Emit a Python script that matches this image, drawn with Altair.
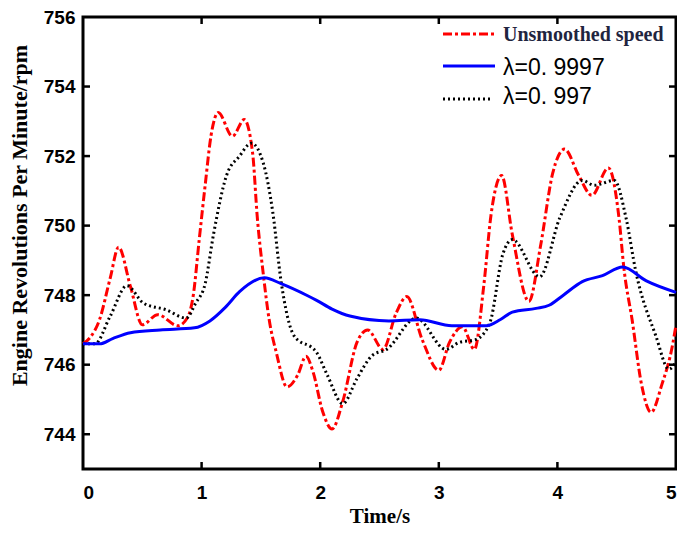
import altair as alt
import pandas as pd

# ---- data ----
red_t = [0, 0.06, 0.14, 0.23, 0.30, 0.40, 0.50, 0.63, 0.80, 0.88, 0.93, 0.98, 1.03, 1.08, 1.14, 1.26, 1.36,
         1.43, 1.47, 1.52, 1.57, 1.63, 1.72, 1.81, 1.88, 1.94, 2.02, 2.10, 2.19, 2.31, 2.40, 2.53, 2.64, 2.73,
         2.86, 3.0, 3.09, 3.2, 3.30, 3.38, 3.44, 3.53, 3.62, 3.76, 3.86, 3.96, 4.06, 4.18, 4.29, 4.43, 4.52,
         4.56, 4.63, 4.71, 4.79, 4.88, 4.97, 5.0]
red_v = [746.6, 746.78, 747.3, 748.5, 749.38, 748.25, 747.15, 747.44, 747.12, 747.35, 748.0, 749.6, 751.16,
         752.6, 753.25, 752.57, 753.05, 752.09, 750.22, 748.61, 747.29, 746.35, 745.36, 745.7, 746.24, 745.79,
         744.66, 744.15, 744.94, 746.64, 747.0, 746.44, 747.48, 747.96, 746.72, 745.84, 746.64, 747.09, 746.44,
         748.3, 750.3, 751.44, 749.74, 747.82, 749.46, 751.5, 752.2, 751.44, 750.87, 751.66, 750.2, 748.8,
         747.29, 745.42, 744.63, 745.42, 746.55, 747.14]

blue_t = [0, 0.14, 0.25, 0.40, 0.65, 0.94, 1.07, 1.20, 1.32, 1.53, 1.67, 1.89, 1.97, 2.10, 2.25, 2.58, 2.84,
          3.11, 3.40, 3.52, 3.62, 3.82, 3.93, 4.05, 4.21, 4.38, 4.55, 4.75, 5.0]
blue_v = [746.6, 746.6, 746.75, 746.92, 747.0, 747.06, 747.26, 747.65, 748.1, 748.5, 748.33, 747.99, 747.85,
          747.6, 747.4, 747.26, 747.29, 747.12, 747.12, 747.3, 747.51, 747.62, 747.71, 748.0, 748.39, 748.56,
          748.81, 748.41, 748.08]

black_t = [0, 0.1, 0.23, 0.37, 0.51, 0.70, 0.87, 0.95, 1.03, 1.10, 1.21, 1.32, 1.42, 1.52, 1.60, 1.67, 1.78,
           1.97, 2.06, 2.19, 2.31, 2.44, 2.56, 2.81, 3.06, 3.17, 3.31, 3.43, 3.54, 3.62, 3.85, 4.02, 4.21, 4.31,
           4.48, 4.58, 4.66, 4.83, 4.94, 5.0]
black_v = [746.6, 746.6, 747.4, 748.27, 747.77, 747.58, 747.34, 747.77, 748.33, 749.74, 751.44, 752.0, 752.37,
           751.8, 750.39, 748.4, 746.83, 746.35, 745.7, 744.88, 745.6, 746.27, 746.44, 747.34, 746.44, 746.64,
           746.72, 747.2, 749.18, 749.6, 748.53, 750.22, 751.3, 751.16, 751.3, 750.2, 748.7, 746.83, 745.87,
           746.07]

legend_labels = ["Unsmoothed speed", "λ=0. 9997", "λ=0. 997"]
x_ticks = [0, 1, 2, 3, 4, 5]
y_ticks = [744, 746, 748, 750, 752, 754, 756]
x_inner = [1, 2, 3, 4]
y_inner = [744, 746, 748, 750, 752, 754]

W, H = 593, 452
TOP = 9

red_df = pd.DataFrame({"t": red_t, "v": red_v})
blue_df = pd.DataFrame({"t": blue_t, "v": blue_v})
black_df = pd.DataFrame({"t": black_t, "v": black_v})

xs = alt.Scale(domain=[0, 5], nice=False, zero=False)
ys = alt.Scale(domain=[743, 756], nice=False, zero=False)

x_axis = alt.Axis(values=x_ticks, tickSize=0, domain=False, grid=False, format="d",
                  labelFont="Liberation Sans", labelFontWeight="bold", labelFontSize=19,
                  labelColor="black", labelPadding=14,
                  title="Time/s", titleFont="Liberation Serif", titleFontWeight="bold",
                  titleFontSize=21, titleColor="black", titleX=W / 2, titleY=53,
                  titleBaseline="alphabetic", titleAlign="center")
y_axis = alt.Axis(values=y_ticks, tickSize=0, domain=False, grid=False, format="d",
                  labelFont="Liberation Sans", labelFontWeight="bold", labelFontSize=19,
                  labelColor="black", labelPadding=8,
                  title="Engine Revolutions Per Minute/rpm", titleFont="Liberation Serif",
                  titleFontWeight="bold", titleFontSize=22, titleColor="black",
                  titleX=-57, titleY=215 - 8 - TOP, titleAngle=-90, titleAlign="center",
                  titleBaseline="alphabetic")

red = alt.Chart(red_df).mark_line(color="#ff0000", strokeWidth=3, strokeDash=[9, 3, 3, 3],
                                  interpolate="monotone").encode(
    x=alt.X("t:Q", scale=xs, axis=x_axis),
    y=alt.Y("v:Q", scale=ys, axis=y_axis))
blue = alt.Chart(blue_df).mark_line(color="#0000ff", strokeWidth=3, interpolate="monotone").encode(
    x=alt.X("t:Q", scale=xs), y=alt.Y("v:Q", scale=ys))
black = alt.Chart(black_df).mark_line(color="black", strokeWidth=3, strokeDash=[2, 3],
                                      interpolate="monotone").encode(
    x=alt.X("t:Q", scale=xs), y=alt.Y("v:Q", scale=ys))

# inward ticks on all four sides
xt = pd.DataFrame({"t": x_inner})
yt = pd.DataFrame({"v": y_inner})
tick_style = dict(color="black", strokeWidth=2.5)
bottom_t = alt.Chart(xt).mark_rule(**tick_style).encode(
    x=alt.X("t:Q", scale=xs), y=alt.value(H), y2=alt.value(H - 7))
top_t = alt.Chart(xt).mark_rule(**tick_style).encode(
    x=alt.X("t:Q", scale=xs), y=alt.value(0), y2=alt.value(7))
left_t = alt.Chart(yt).mark_rule(**tick_style).encode(
    y=alt.Y("v:Q", scale=ys), x=alt.value(0), x2=alt.value(7))
right_t = alt.Chart(yt).mark_rule(**tick_style).encode(
    y=alt.Y("v:Q", scale=ys), x=alt.value(W), x2=alt.value(W - 7))

# manual legend (top-right, inside the plot)
one = pd.DataFrame({"a": [0]})
leg_red = alt.Chart(one).mark_rule(
    color="#ff0000", strokeWidth=3, strokeDash=[9, 3, 3, 3]).encode(
    x=alt.value(360), x2=alt.value(412), y=alt.value(17))
leg_blue = alt.Chart(one).mark_rule(color="#0000ff", strokeWidth=3).encode(
    x=alt.value(360), x2=alt.value(412), y=alt.value(49))
leg_black = alt.Chart(one).mark_rule(
    color="black", strokeWidth=3, strokeDash=[2, 3]).encode(
    x=alt.value(360), x2=alt.value(410), y=alt.value(82))
txt_red = alt.Chart(one).mark_text(
    align="left", baseline="alphabetic", font="Liberation Serif", fontWeight="bold",
    fontSize=20, color="#1f2540").encode(
    x=alt.value(420), y=alt.value(24), text=alt.value(legend_labels[0]))
txt_blue = alt.Chart(one).mark_text(
    align="left", baseline="alphabetic", font="Liberation Sans", fontSize=23,
    color="black").encode(
    x=alt.value(420), y=alt.value(58), text=alt.value(legend_labels[1]))
txt_black = alt.Chart(one).mark_text(
    align="left", baseline="alphabetic", font="Liberation Sans", fontSize=23,
    color="black").encode(
    x=alt.value(420), y=alt.value(87), text=alt.value(legend_labels[2]))

chart = alt.layer(
    red, black, blue, bottom_t, top_t, left_t, right_t,
    leg_red, leg_blue, leg_black, txt_red, txt_blue, txt_black
).properties(
    width=W, height=H,
    autosize=alt.AutoSizeParams(type="none"),
    padding={"left": 75, "top": TOP, "right": 1, "bottom": 520 - TOP - H},
    background="white"
).configure_view(stroke="black", strokeWidth=3)

chart.save("out.html", embed_options={"renderer": "svg", "actions": False})
